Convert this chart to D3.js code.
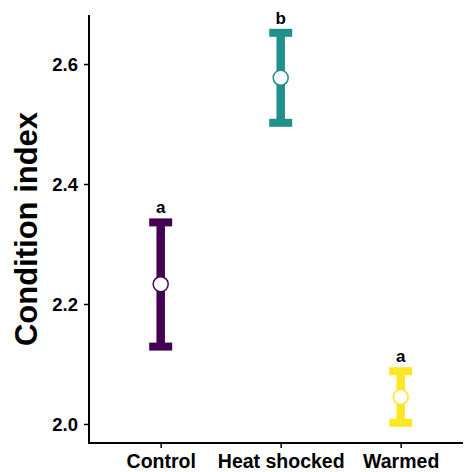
<!DOCTYPE html>
<html>
<head>
<meta charset="utf-8">
<script src="https://cdn.jsdelivr.net/npm/d3@7"></script>
<style>
body{margin:0;background:#fff;}
text{font-family:"Liberation Sans",Arial,sans-serif;font-weight:bold;}
</style>
</head>
<body>
<svg id="chart" width="464" height="472"></svg>
<script>
const categories = ["Control", "Heat shocked", "Warmed"];
const means = [2.233, 2.577, 2.045];
const lowers = [2.129, 2.502, 2.002];
const uppers = [2.336, 2.652, 2.088];
const letters = ["a", "b", "a"];
const colors = ["#440154", "#21908C", "#FDE725"];
const yTicks = [2.0, 2.2, 2.4, 2.6];

const svg = d3.select("#chart");
const mLeft = 89, mRight = 463, mTop = 15, mBottom = 443;

const x = d3.scalePoint().domain(categories).range([160.7, 400.7]);
const y = d3.scaleLinear().domain([1.9683, 2.6817]).range([mBottom, mTop]);

// axes
const yAxis = svg.append("g").attr("transform", `translate(${mLeft},0)`)
  .call(d3.axisLeft(y).tickValues(yTicks).tickFormat(d3.format(".1f")).tickSize(5).tickSizeOuter(0));
const xAxis = svg.append("g").attr("transform", `translate(0,${mBottom})`)
  .call(d3.axisBottom(x).tickSize(5).tickSizeOuter(0));
[yAxis, xAxis].forEach(g => {
  g.select(".domain").remove();
  g.selectAll(".tick line").attr("stroke", "#000").attr("stroke-width", 1.5);
  g.selectAll(".tick text").attr("fill", "#000").style("font-family", "Liberation Sans, Arial, sans-serif").style("font-weight", "bold");
});
yAxis.selectAll(".tick text").style("font-size", "18.5px").attr("x", -11).attr("dy", "6.5px");
xAxis.selectAll(".tick text").style("font-size", "19.5px").attr("y", 9).attr("dy", "16px");

svg.append("line").attr("x1", mLeft).attr("x2", mLeft).attr("y1", mTop).attr("y2", mBottom + 1)
  .attr("stroke", "#000").attr("stroke-width", 2);
svg.append("line").attr("x1", mLeft - 1).attr("x2", mRight).attr("y1", mBottom).attr("y2", mBottom)
  .attr("stroke", "#000").attr("stroke-width", 2);

// y label
svg.append("text")
  .attr("transform", `translate(37,${(mTop + mBottom) / 2}) rotate(-90)`)
  .attr("text-anchor", "middle")
  .style("font-size", "31px")
  .attr("fill", "#000")
  .text("Condition index");

const capHalf = 11.5;
categories.forEach((c, i) => {
  const cx = x(c);
  const g = svg.append("g");
  g.append("line").attr("x1", cx).attr("x2", cx).attr("y1", y(uppers[i])).attr("y2", y(lowers[i]))
    .attr("stroke", colors[i]).attr("stroke-width", 8.5);
  [uppers[i], lowers[i]].forEach(v => {
    g.append("line").attr("x1", cx - capHalf).attr("x2", cx + capHalf).attr("y1", y(v)).attr("y2", y(v))
      .attr("stroke", colors[i]).attr("stroke-width", 8);
  });
  g.append("circle").attr("cx", cx).attr("cy", y(means[i])).attr("r", 7.5)
    .attr("fill", "#fff").attr("stroke", colors[i]).attr("stroke-width", 1.5);
  g.append("text").attr("x", cx).attr("y", y(uppers[i]) - 9)
    .attr("text-anchor", "middle").style("font-size", "17px").attr("fill", "#000")
    .text(letters[i]);
});
</script>
</body>
</html>
